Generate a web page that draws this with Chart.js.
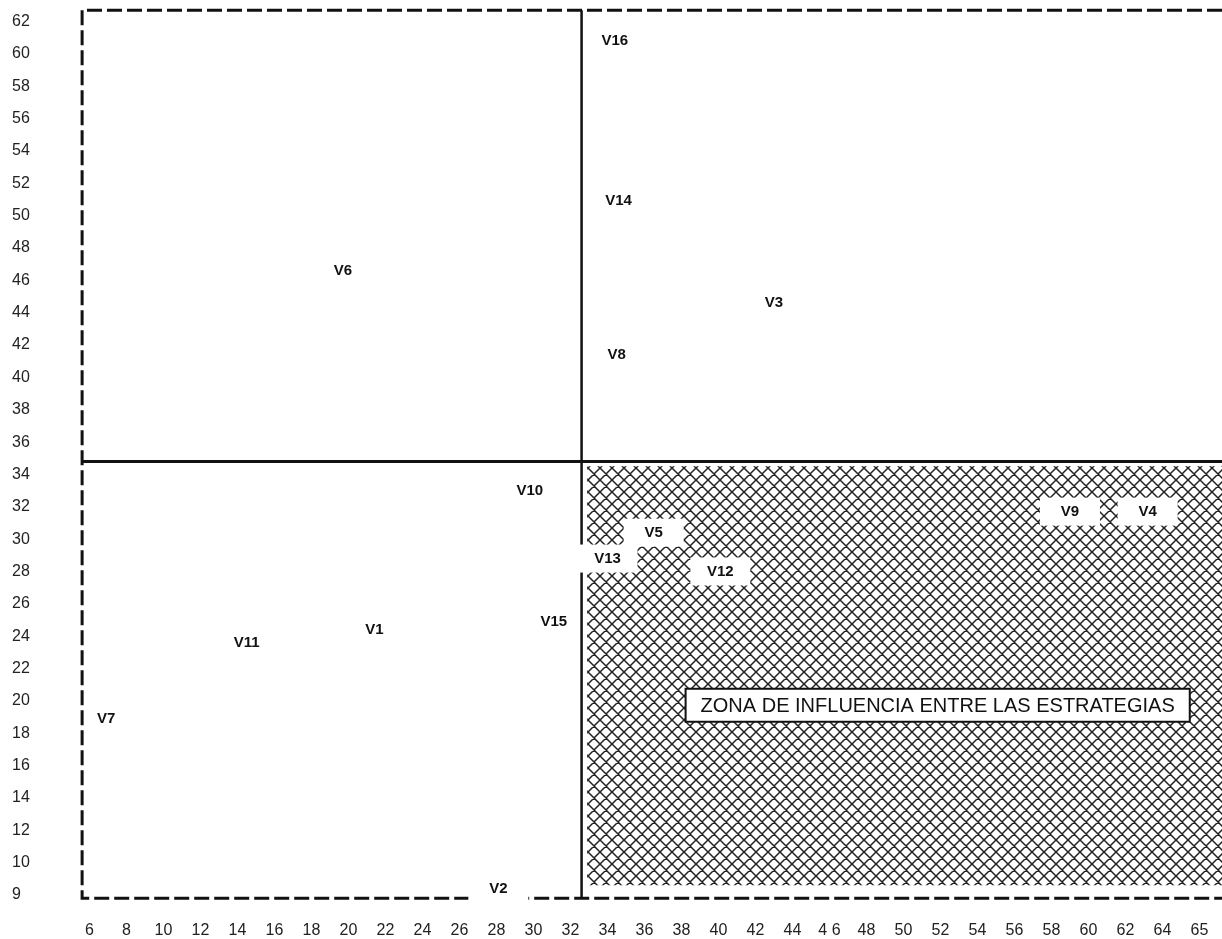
<!DOCTYPE html>
<html>
<head>
<meta charset="utf-8">
<script src="https://cdn.jsdelivr.net/npm/chart.js@4.4.1/dist/chart.umd.min.js"></script>
<style>
  html, body { margin: 0; padding: 0; background: #fff; }
  #wrap { width: 1222px; height: 939px; }
</style>
</head>
<body>
<div id="wrap"><canvas id="matrixChart" width="1222" height="939"></canvas></div>
<script>
// Tick labels as they are printed on the original (the "4 6" is in the source)
const xTickValues = [6, 8, 10, 12, 14, 16, 18, 20, 22, 24, 26, 28, 30, 32, 34, 36, 38, 40,
  42, 44, 46, 48, 50, 52, 54, 56, 58, 60, 62, 64, 65];
const xTickLabels = ['6', '8', '10', '12', '14', '16', '18', '20', '22', '24', '26', '28', '30',
  '32', '34', '36', '38', '40', '42', '44', '4 6', '48', '50', '52', '54', '56', '58', '60',
  '62', '64', '65'];
const yTickValues = [9, 10, 12, 14, 16, 18, 20, 22, 24, 26, 28, 30, 32, 34, 36, 38, 40, 42,
  44, 46, 48, 50, 52, 54, 56, 58, 60, 62];

// Variables V1..V16, positions in axis units
const varNames = ['V16', 'V14', 'V6', 'V3', 'V8', 'V10', 'V9', 'V4', 'V5', 'V13', 'V12',
  'V15', 'V1', 'V11', 'V7', 'V2'];
const varX = [34.4, 34.6, 19.7, 43.0, 34.5, 29.8, 59.0, 63.2, 36.5, 34.0, 40.1,
  31.1, 21.4, 14.5, 6.9, 28.1];
const varY = [60.8, 50.9, 46.6, 44.6, 41.4, 33.0, 31.7, 31.7, 30.4, 28.8, 28.0,
  24.9, 24.4, 23.6, 18.9, 9.2];
// labels sitting on a white patch (over the hatch or a line)
const boxedNames = ['V9', 'V4', 'V5', 'V13', 'V12', 'V2'];

// frame and quadrant dividers
const frameLeft = 5.6, frameTop = 62.7, frameBottom = 8.9;
const dividerX = 32.6, dividerY = 34.8;

// hatched zone
const zoneLeft = 32.9, zoneTop = 34.5, zoneBottom = 9.3;
const zoneText = 'ZONA DE INFLUENCIA ENTRE LAS ESTRATEGIAS';
const zoneTextX = 51.85, zoneTextY = 19.7;

// axis values -> position along the (evenly spaced) printed ticks
function toIdx(v, ticks) {
  let i = 0;
  while (i < ticks.length - 2 && v > ticks[i + 1]) i++;
  return i + (v - ticks[i]) / (ticks[i + 1] - ticks[i]);
}
const xi = v => toIdx(v, xTickValues);
const yi = v => toIdx(v, yTickValues);

const X_MIN = -0.257, X_MAX = 30.61;
const Y_MIN = -0.309, Y_MAX = 27.666;
const FONT = '"Liberation Sans", Arial, sans-serif';

// cross hatch tile
function hatchTile() {
  const c = document.createElement('canvas');
  c.width = 12; c.height = 12;
  const g = c.getContext('2d');
  g.fillStyle = '#fff';
  g.fillRect(0, 0, 12, 12);
  g.strokeStyle = '#222';
  g.lineWidth = 1.5;
  g.beginPath();
  for (const o of [-12, 0, 12]) {
    g.moveTo(o, 0); g.lineTo(o + 12, 12);
    g.moveTo(o, 12); g.lineTo(o + 12, 0);
  }
  g.stroke();
  return c;
}

const labelPlugin = {
  id: 'varLabels',
  afterDatasetsDraw(chart) {
    const { ctx, scales: { x, y } } = chart;
    ctx.save();

    // caption box inside the zone
    ctx.font = '20px ' + FONT;
    const cx = x.getPixelForValue(xi(zoneTextX));
    const cy = y.getPixelForValue(yi(zoneTextY));
    const w = ctx.measureText(zoneText).width + 30;
    ctx.fillStyle = '#fff';
    ctx.fillRect(cx - w / 2, cy - 17, w, 33);
    ctx.strokeStyle = '#111';
    ctx.lineWidth = 2;
    ctx.strokeRect(cx - w / 2, cy - 17, w, 33);
    ctx.fillStyle = '#111';
    ctx.textAlign = 'center';
    ctx.textBaseline = 'middle';
    ctx.fillText(zoneText, cx, cy + 1);

    // variable labels
    ctx.font = 'bold 15px ' + FONT;
    varNames.forEach((name, i) => {
      const px = x.getPixelForValue(xi(varX[i]));
      const py = y.getPixelForValue(yi(varY[i]));
      if (boxedNames.includes(name)) {
        ctx.fillStyle = '#fff';
        ctx.fillRect(px - 30, py - 14, 60, 28);
      }
      ctx.fillStyle = '#111';
      ctx.fillText(name, px, py);
    });
    ctx.restore();
  }
};

const ctx = document.getElementById('matrixChart').getContext('2d');
const hatch = ctx.createPattern(hatchTile(), 'repeat');

new Chart(ctx, {
  type: 'line',
  data: {
    datasets: [
      {
        label: 'frame',
        data: [
          { x: X_MAX, y: yi(frameTop) },
          { x: xi(frameLeft), y: yi(frameTop) },
          { x: xi(frameLeft), y: yi(frameBottom) },
          { x: X_MAX, y: yi(frameBottom) }
        ],
        borderColor: '#111',
        borderWidth: 3,
        borderDash: [15, 5],
        pointRadius: 0,
        fill: false,
        order: 1
      },
      {
        label: 'horizontal',
        data: [{ x: xi(frameLeft), y: yi(dividerY) }, { x: X_MAX, y: yi(dividerY) }],
        borderColor: '#111',
        borderWidth: 3,
        pointRadius: 0,
        fill: false,
        order: 1
      },
      {
        label: 'vertical',
        data: [{ x: xi(dividerX), y: yi(frameTop) }, { x: xi(dividerX), y: yi(frameBottom) }],
        borderColor: '#111',
        borderWidth: 2.5,
        pointRadius: 0,
        fill: false,
        order: 1
      },
      {
        label: 'zona',
        data: [{ x: xi(zoneLeft), y: yi(zoneTop) }, { x: X_MAX, y: yi(zoneTop) }],
        borderColor: 'rgba(0,0,0,0)',
        borderWidth: 0,
        backgroundColor: hatch,
        fill: { value: yi(zoneBottom) },
        pointRadius: 0,
        order: 5
      }
    ]
  },
  options: {
    responsive: false,
    animation: false,
    layout: { padding: { left: 12, top: 0, right: 0, bottom: 0 } },
    plugins: {
      legend: { display: false },
      tooltip: { enabled: false }
    },
    scales: {
      x: {
        type: 'linear',
        min: X_MIN,
        max: X_MAX,
        grid: { display: false },
        border: { display: false },
        afterBuildTicks: s => { s.ticks = xTickValues.map((_, i) => ({ value: i })); },
        afterFit: s => { s.height = 34; s.paddingLeft = 0; s.paddingRight = 0; },
        ticks: {
          autoSkip: false,
          maxRotation: 0,
          padding: 8,
          color: '#222',
          font: { family: FONT, size: 16 },
          callback: v => xTickLabels[v]
        }
      },
      y: {
        type: 'linear',
        min: Y_MIN,
        max: Y_MAX,
        grid: { display: false },
        border: { display: false },
        afterBuildTicks: s => { s.ticks = yTickValues.map((_, i) => ({ value: i })); },
        afterFit: s => { s.width = 68; s.paddingTop = 0; s.paddingBottom = 0; },
        ticks: {
          autoSkip: false,
          crossAlign: 'far',
          color: '#222',
          font: { family: FONT, size: 16 },
          callback: v => String(yTickValues[v])
        }
      }
    }
  },
  plugins: [labelPlugin]
});
</script>
</body>
</html>
